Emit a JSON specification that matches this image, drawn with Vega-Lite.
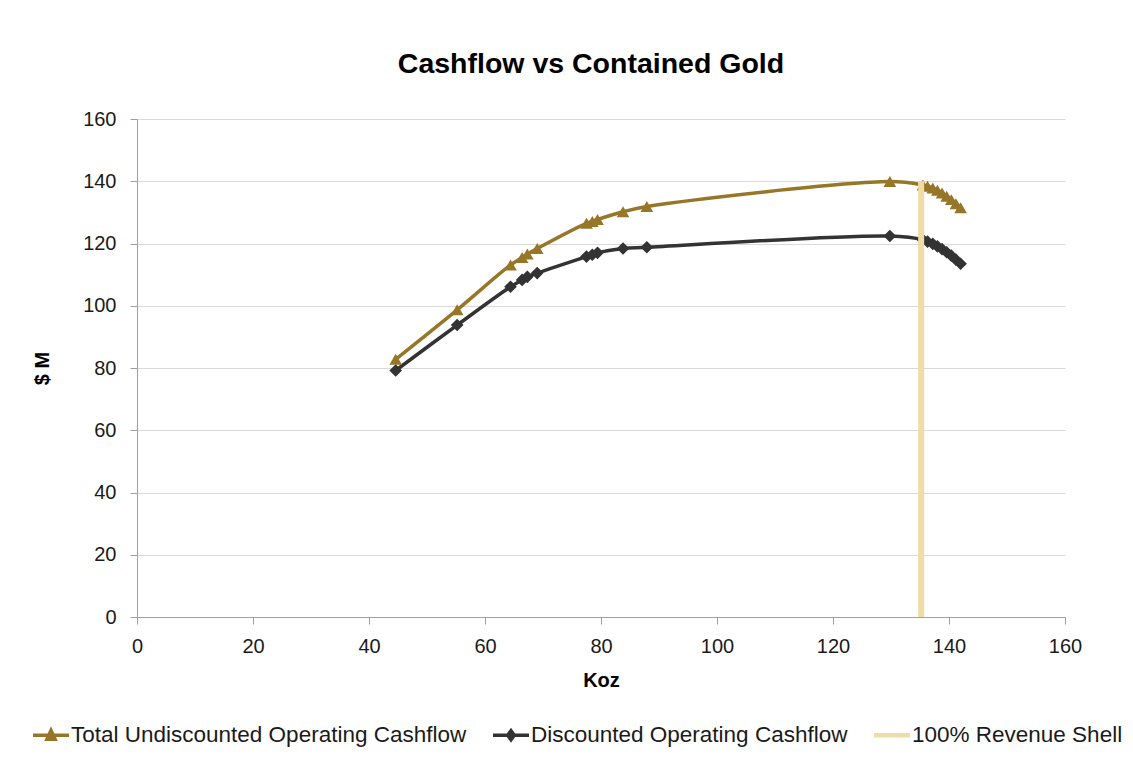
{
  "$schema": "https://vega.github.io/schema/vega-lite/v6.json",
  "width": 928,
  "height": 498,
  "autosize": {"type": "none"},
  "padding": {"left": 137, "top": 119, "right": 68, "bottom": 161},
  "background": "white",
  "title": {
    "text": "Cashflow vs Contained Gold",
    "fontSize": 28.5,
    "fontWeight": "bold",
    "font": "Liberation Sans",
    "color": "#000000",
    "anchor": "middle",
    "dx": -10,
    "offset": 31
  },
  "config": {
    "view": {"stroke": null},
    "font": "Liberation Sans",
    "axis": {
      "domainColor": "#a0a0a0",
      "tickColor": "#a0a0a0",
      "gridColor": "#d9d9d9",
      "tickSize": 7,
      "labelFontSize": 20,
      "labelColor": "#1a1a1a",
      "labelFont": "Liberation Sans",
      "labelFlush": false,
      "titleFontSize": 20,
      "titleFontWeight": "bold",
      "titleColor": "#000000",
      "titleFont": "Liberation Sans"
    }
  },
  "datasets": {
    "curves": [
      {"series": "Total Undiscounted Operating Cashflow", "koz": 44.6, "value": 82.8},
      {"series": "Total Undiscounted Operating Cashflow", "koz": 55.2, "value": 98.7},
      {"series": "Total Undiscounted Operating Cashflow", "koz": 64.4, "value": 113.1},
      {"series": "Total Undiscounted Operating Cashflow", "koz": 66.4, "value": 115.5},
      {"series": "Total Undiscounted Operating Cashflow", "koz": 67.3, "value": 116.6},
      {"series": "Total Undiscounted Operating Cashflow", "koz": 69.0, "value": 118.4},
      {"series": "Total Undiscounted Operating Cashflow", "koz": 77.5, "value": 126.5},
      {"series": "Total Undiscounted Operating Cashflow", "koz": 78.5, "value": 127.1},
      {"series": "Total Undiscounted Operating Cashflow", "koz": 79.4, "value": 127.7},
      {"series": "Total Undiscounted Operating Cashflow", "koz": 83.8, "value": 130.2},
      {"series": "Total Undiscounted Operating Cashflow", "koz": 87.9, "value": 131.9},
      {"series": "Total Undiscounted Operating Cashflow", "koz": 129.8, "value": 139.9},
      {"series": "Total Undiscounted Operating Cashflow", "koz": 135.5, "value": 138.8},
      {"series": "Total Undiscounted Operating Cashflow", "koz": 136.3, "value": 138.4},
      {"series": "Total Undiscounted Operating Cashflow", "koz": 137.2, "value": 137.8},
      {"series": "Total Undiscounted Operating Cashflow", "koz": 138.0, "value": 137.1},
      {"series": "Total Undiscounted Operating Cashflow", "koz": 138.8, "value": 136.2},
      {"series": "Total Undiscounted Operating Cashflow", "koz": 139.6, "value": 135.2},
      {"series": "Total Undiscounted Operating Cashflow", "koz": 140.4, "value": 134.1},
      {"series": "Total Undiscounted Operating Cashflow", "koz": 141.2, "value": 132.8},
      {"series": "Total Undiscounted Operating Cashflow", "koz": 142.0, "value": 131.5},
      {"series": "Discounted Operating Cashflow", "koz": 44.6, "value": 79.2},
      {"series": "Discounted Operating Cashflow", "koz": 55.2, "value": 93.8},
      {"series": "Discounted Operating Cashflow", "koz": 64.4, "value": 106.1},
      {"series": "Discounted Operating Cashflow", "koz": 66.4, "value": 108.3},
      {"series": "Discounted Operating Cashflow", "koz": 67.3, "value": 109.3},
      {"series": "Discounted Operating Cashflow", "koz": 69.0, "value": 110.5},
      {"series": "Discounted Operating Cashflow", "koz": 77.5, "value": 115.8},
      {"series": "Discounted Operating Cashflow", "koz": 78.5, "value": 116.4},
      {"series": "Discounted Operating Cashflow", "koz": 79.4, "value": 117.0},
      {"series": "Discounted Operating Cashflow", "koz": 83.8, "value": 118.4},
      {"series": "Discounted Operating Cashflow", "koz": 87.9, "value": 118.8},
      {"series": "Discounted Operating Cashflow", "koz": 129.8, "value": 122.4},
      {"series": "Discounted Operating Cashflow", "koz": 135.5, "value": 121.2},
      {"series": "Discounted Operating Cashflow", "koz": 136.3, "value": 120.6},
      {"series": "Discounted Operating Cashflow", "koz": 137.2, "value": 119.9},
      {"series": "Discounted Operating Cashflow", "koz": 138.0, "value": 119.1},
      {"series": "Discounted Operating Cashflow", "koz": 138.8, "value": 118.2},
      {"series": "Discounted Operating Cashflow", "koz": 139.6, "value": 117.2},
      {"series": "Discounted Operating Cashflow", "koz": 140.4, "value": 116.1},
      {"series": "Discounted Operating Cashflow", "koz": 141.2, "value": 114.8},
      {"series": "Discounted Operating Cashflow", "koz": 142.0, "value": 113.5}
    ],
    "shell": [
      {"series": "100% Revenue Shell", "koz": 135.2, "low": 0, "high": 140}
    ]
  },
  "encoding": {
    "x": {
      "field": "koz",
      "type": "quantitative",
      "scale": {"domain": [0, 160], "nice": false},
      "axis": {
        "title": "Koz",
        "values": [0, 20, 40, 60, 80, 100, 120, 140, 160],
        "grid": false,
        "labelPadding": 12,
        "titlePadding": 14
      }
    },
    "color": {
      "field": "series",
      "type": "nominal",
      "scale": {
        "domain": ["Total Undiscounted Operating Cashflow", "Discounted Operating Cashflow", "100% Revenue Shell"],
        "range": ["#977628", "#333333", "#F2DCA6"]
      },
      "legend": {
        "title": null,
        "orient": "none",
        "direction": "horizontal",
        "legendX": -104,
        "legendY": 598,
        "labelFontSize": 22.5,
        "labelLimit": 0,
        "labelFont": "Liberation Sans",
        "labelColor": "#1a1a1a",
        "labelOffset": 2,
        "columnPadding": 26,
        "symbolSize": 1296,
        "symbolStrokeWidth": 0,
        "encode": {
          "symbols": {
            "update": {
              "shape": {"signal": "datum.value === 'Total Undiscounted Operating Cashflow' ? 'M-1,-0.1L1,-0.1L1,0.1L-1,0.1Z M0,-0.5L0.38,0.32L-0.38,0.32Z' : datum.value === 'Discounted Operating Cashflow' ? 'M-1,-0.1L1,-0.1L1,0.1L-1,0.1Z M0,-0.42L0.3,0L0,0.42L-0.3,0Z' : 'M-1,-0.12L1,-0.12L1,0.12L-1,0.12Z'"},
              "fill": {"signal": "datum.value === 'Total Undiscounted Operating Cashflow' ? '#977628' : datum.value === 'Discounted Operating Cashflow' ? '#333333' : '#F2DCA6'"},
              "fillOpacity": {"value": 1},
              "strokeWidth": {"value": 0}
            }
          }
        }
      }
    }
  },
  "layer": [
    {
      "data": {"name": "curves"},
      "mark": {"type": "line", "interpolate": "catmull-rom", "strokeWidth": 3.5},
      "encoding": {
        "y": {
          "field": "value",
          "type": "quantitative",
          "scale": {"domain": [0, 160], "nice": false},
          "axis": {
            "title": "$ M",
            "values": [0, 20, 40, 60, 80, 100, 120, 140, 160],
            "labelPadding": 14,
            "titlePadding": 30
          }
        }
      }
    },
    {
      "data": {"name": "curves"},
      "mark": {"type": "point", "filled": true, "opacity": 1, "size": 160},
      "encoding": {
        "y": {"field": "value", "type": "quantitative"},
        "shape": {
          "field": "series",
          "type": "nominal",
          "scale": {
            "domain": ["Total Undiscounted Operating Cashflow", "Discounted Operating Cashflow"],
            "range": ["triangle-up", "diamond"]
          },
          "legend": null
        }
      }
    },
    {
      "data": {"name": "shell"},
      "mark": {"type": "rule", "strokeWidth": 6},
      "encoding": {
        "y": {"field": "low", "type": "quantitative"},
        "y2": {"field": "high"}
      }
    }
  ]
}
